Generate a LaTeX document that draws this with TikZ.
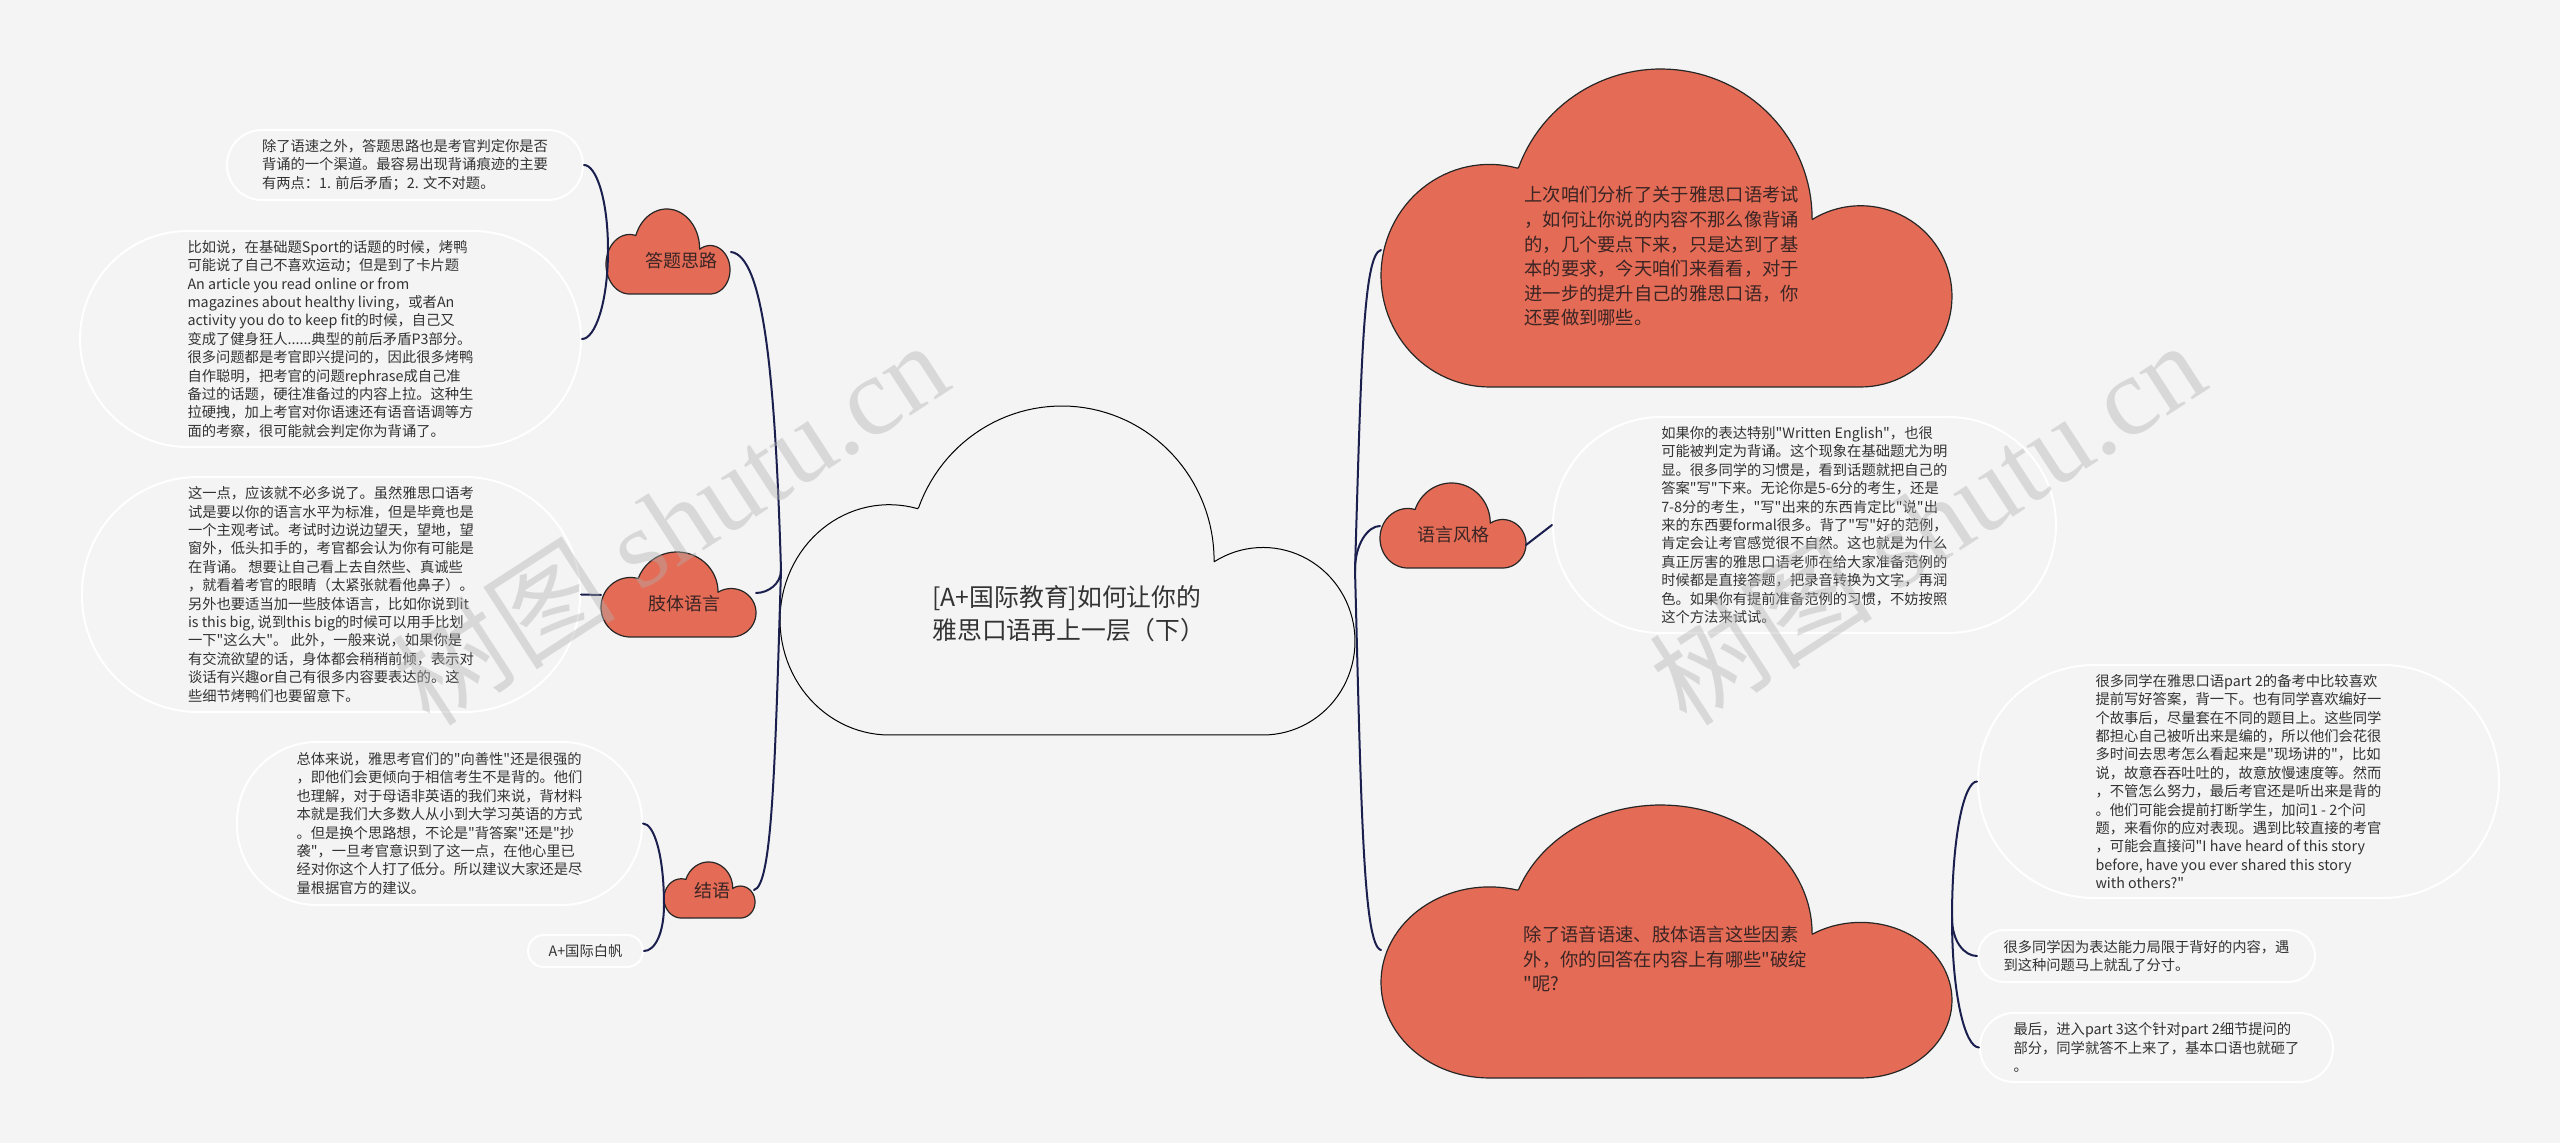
\documentclass[tikz,border=0pt]{standalone}
\usepackage{fontspec}
\setmainfont{Noto Sans CJK SC}
\newfontfamily\cjk{Noto Sans CJK SC}
\newfontfamily\wmserif{Liberation Serif}
\usetikzlibrary{calc}
\definecolor{bg}{HTML}{F4F4F4}
\definecolor{orng}{HTML}{E46C56}
\definecolor{lnk}{HTML}{1B1F4E}
\definecolor{txt}{HTML}{333333}
\definecolor{ctxt}{HTML}{3A2424}
\definecolor{wmc}{HTML}{B0B0B0}
\newcommand{\cloudshape}[5]{%
 \begin{scope}[shift={(#1,#2)}, xscale=#3, yscale=#4]
  \path[#5] plot[variable=\t, domain=200:360, samples=60] ({0.49+0.265*cos(\t)},{0.47+0.47*sin(\t)})
   -- plot[variable=\t, domain=238:450, samples=60] ({0.84+0.16*cos(\t)},{0.715+0.285*sin(\t)})
   -- plot[variable=\t, domain=90:285, samples=60] ({0.19+0.19*cos(\t)},{0.65+0.35*sin(\t)})
   -- cycle;
 \end{scope}}
\tikzset{
 conn/.style={draw=lnk, line width=1pt, line cap=round},
 bubble/.style={draw=white, line width=1pt, fill=bg, align=left, text=txt, font=\cjk\fontsize{7.15pt}{9.2pt}\selectfont, inner sep=0pt},
 orcloud/.style={fill=orng, draw=black!85, line width=0.6pt},
 whcloud/.style={fill=bg, draw=black, line width=0.5pt},
 ctext/.style={align=left, text=ctxt, font=\cjk\fontsize{9.15pt}{12.3pt}\selectfont, inner sep=0pt},
 stext/.style={text=ctxt, font=\cjk\fontsize{9pt}{11pt}\selectfont, inner sep=0pt},
 mtext/.style={align=left, text=txt, font=\cjk\fontsize{12.4pt}{16.5pt}\selectfont, inner sep=0pt},
 wmark/.style={text=wmc, opacity=0.4, inner sep=0pt}
}
\begin{document}
\begin{tikzpicture}[x=0.5pt, y=-0.5pt, line join=round]
\useasboundingbox (0,0) rectangle (2560,1143);
\fill[bg] (0,0) rectangle (2560,1143);

% clouds
\cloudshape{780}{406}{575}{329}{whcloud}
\cloudshape{1381}{69}{571}{318}{orcloud}
\cloudshape{1381}{805}{571}{273}{orcloud}
\cloudshape{606}{209}{124}{85}{orcloud}
\cloudshape{601}{552}{155}{85}{orcloud}
\cloudshape{1380}{483}{146}{85}{orcloud}
\cloudshape{664}{862}{91}{56}{orcloud}

% anchors
\coordinate (pl) at (781,570);
\coordinate (pr) at (1355,570);
\coordinate (s1r) at (731,252);
\coordinate (s1l) at (608,250);
\coordinate (s2r) at (756,593);
\coordinate (s2l) at (601,595);
\coordinate (s3l) at (1380,526);
\coordinate (s3r) at (1526,545);
\coordinate (s4r) at (754,890);
\coordinate (s4l) at (664,905);
\coordinate (c1l) at (1381,250);
\coordinate (c2l) at (1381,950);
\coordinate (c2r) at (1952,918);

% texts in clouds
\node[mtext, anchor=west] (c0t) at (932,613.5) {[A+国际教育]如何让你的\\雅思口语再上一层（下）};
\node[ctext, anchor=west] (c1t) at (1524,256.5) {上次咱们分析了关于雅思口语考试\\，如何让你说的内容不那么像背诵\\的，几个要点下来，只是达到了基\\本的要求，今天咱们来看看，对于\\进一步的提升自己的雅思口语，你\\还要做到哪些。};
\node[ctext, anchor=west] (c2t) at (1523.5,959) {除了语音语速、肢体语言这些因素\\外，你的回答在内容上有哪些"破绽\\"呢?};
\node[stext] (s1t) at (681,261) {答题思路};
\node[stext] (s2t) at (684,604) {肢体语言};
\node[stext] (s3t) at (1453,535) {语言风格};
\node[stext] (s4t) at (712,891) {结语};

% bubbles
\node[bubble, minimum width=178pt, minimum height=35pt, rounded corners=17.5pt] (b1) at (405,165) {除了语速之外，答题思路也是考官判定你是否\\背诵的一个渠道。最容易出现背诵痕迹的主要\\有两点：1. 前后矛盾；2. 文不对题。};
\node[bubble, minimum width=250.5pt, minimum height=108pt, rounded corners=54pt] (b2) at (330.5,339) {比如说，在基础题Sport的话题的时候，烤鸭\\可能说了自己不喜欢运动；但是到了卡片题\\An article you read online or from\\magazines about healthy living，或者An\\activity you do to keep fit的时候，自己又\\变成了健身狂人......典型的前后矛盾P3部分。\\很多问题都是考官即兴提问的，因此很多烤鸭\\自作聪明，把考官的问题rephrase成自己准\\备过的话题，硬往准备过的内容上拉。这种生\\拉硬拽，加上考官对你语速还有语音语调等方\\面的考察，很可能就会判定你为背诵了。};
\node[bubble, minimum width=249pt, minimum height=117.5pt, rounded corners=58pt] (b3) at (331,594.5) {这一点，应该就不必多说了。虽然雅思口语考\\试是要以你的语言水平为标准，但是毕竟也是\\一个主观考试。考试时边说边望天，望地，望\\窗外，低头扣手的，考官都会认为你有可能是\\在背诵。 想要让自己看上去自然些、真诚些\\，就看着考官的眼睛（太紧张就看他鼻子）。\\另外也要适当加一些肢体语言，比如你说到it\\is this big, 说到this big的时候可以用手比划\\一下"这么大"。 此外，一般来说，如果你是\\有交流欲望的话，身体都会稍稍前倾，表示对\\谈话有兴趣or自己有很多内容要表达的。这\\些细节烤鸭们也要留意下。};
\node[bubble, minimum width=202.5pt, minimum height=81.5pt, rounded corners=40pt] (b4) at (439.5,823.5) {总体来说，雅思考官们的"向善性"还是很强的\\，即他们会更倾向于相信考生不是背的。他们\\也理解，对于母语非英语的我们来说，背材料\\本就是我们大多数人从小到大学习英语的方式\\。但是换个思路想，不论是"背答案"还是"抄\\袭"，一旦考官意识到了这一点，在他心里已\\经对你这个人打了低分。所以建议大家还是尽\\量根据官方的建议。};
\node[bubble, minimum width=57.5pt, minimum height=16pt, rounded corners=8pt] (b5) at (585.5,951) {A+国际白帆};
\node[bubble, minimum width=251.5pt, minimum height=108pt, rounded corners=54pt] (b6) at (1804.5,525) {如果你的表达特别"Written English"，也很\\可能被判定为背诵。这个现象在基础题尤为明\\显。很多同学的习惯是，看到话题就把自己的\\答案"写"下来。无论你是5-6分的考生，还是\\7-8分的考生，"写"出来的东西肯定比"说"出\\来的东西要formal很多。背了"写"好的范例，\\肯定会让考官感觉很不自然。这也就是为什么\\真正厉害的雅思口语老师在给大家准备范例的\\时候都是直接答题，把录音转换为文字，再润\\色。如果你有提前准备范例的习惯，不妨按照\\这个方法来试试。};
\node[bubble, minimum width=260.5pt, minimum height=116.5pt, rounded corners=58pt] (b7) at (2238.5,781.5) {很多同学在雅思口语part 2的备考中比较喜欢\\提前写好答案，背一下。也有同学喜欢编好一\\个故事后，尽量套在不同的题目上。这些同学\\都担心自己被听出来是编的，所以他们会花很\\多时间去思考怎么看起来是"现场讲的"，比如\\说，故意吞吞吐吐的，故意放慢速度等。然而\\，不管怎么努力，最后考官还是听出来是背的\\。他们可能会提前打断学生，加问1 - 2个问\\题，来看你的应对表现。遇到比较直接的考官\\，可能会直接问"I have heard of this story\\before, have you ever shared this story\\with others?"};
\node[bubble, minimum width=168.5pt, minimum height=26pt, rounded corners=13pt] (b8) at (2146.5,956) {很多同学因为表达能力局限于背好的内容，遇\\到这种问题马上就乱了分寸。};
\node[bubble, minimum width=176.5pt, minimum height=34.5pt, rounded corners=17pt] (b9) at (2156.5,1047.5) {最后，进入part 3这个针对part 2细节提问的\\部分，同学就答不上来了，基本口语也就砸了\\。};

% connectors
\draw[conn] (pl) .. controls +(-6,-200) and +(32,4) .. (s1r);
\draw[conn] (pl) .. controls +(0,14) and +(12,0) .. (s2r);
\draw[conn] (pl) .. controls +(-6,200) and +(18,-4) .. (s4r);
\draw[conn] (pr) .. controls +(6,-200) and +(-18,4) .. (c1l);
\draw[conn] (pr) .. controls +(0,-26) and +(-12,0) .. (s3l);
\draw[conn] (pr) .. controls +(6,230) and +(-18,-4) .. (c2l);
\draw[conn] (s1l) .. controls +(0,-51) and +(12,0) .. (b1.east);
\draw[conn] (s1l) .. controls +(0,53) and +(13,0) .. (b2.east);
\draw[conn] (s2l) -- (b3.east);
\draw[conn] (s3r) -- (b6.west);
\draw[conn] (s4l) .. controls +(0,-50) and +(11,0) .. (b4.east);
\draw[conn] (s4l) .. controls +(0,28) and +(11,0) .. (b5.east);
\draw[conn] (c2r) .. controls +(0,-82) and +(-13,0) .. (b7.west);
\draw[conn] (c2r) .. controls +(0,23) and +(-13,0) .. (b8.west);
\draw[conn] (c2r) .. controls +(0,77) and +(-14,0) .. (b9.west);

% watermarks
\node[wmark, rotate=33] (wm1) at (670,522) {\cjk\fontsize{56pt}{56pt}\selectfont 树图 {\wmserif shutu.cn}};
\node[wmark, rotate=33] (wm2) at (1927,522) {\cjk\fontsize{56pt}{56pt}\selectfont 树图 {\wmserif shutu.cn}};
\end{tikzpicture}
\end{document}
